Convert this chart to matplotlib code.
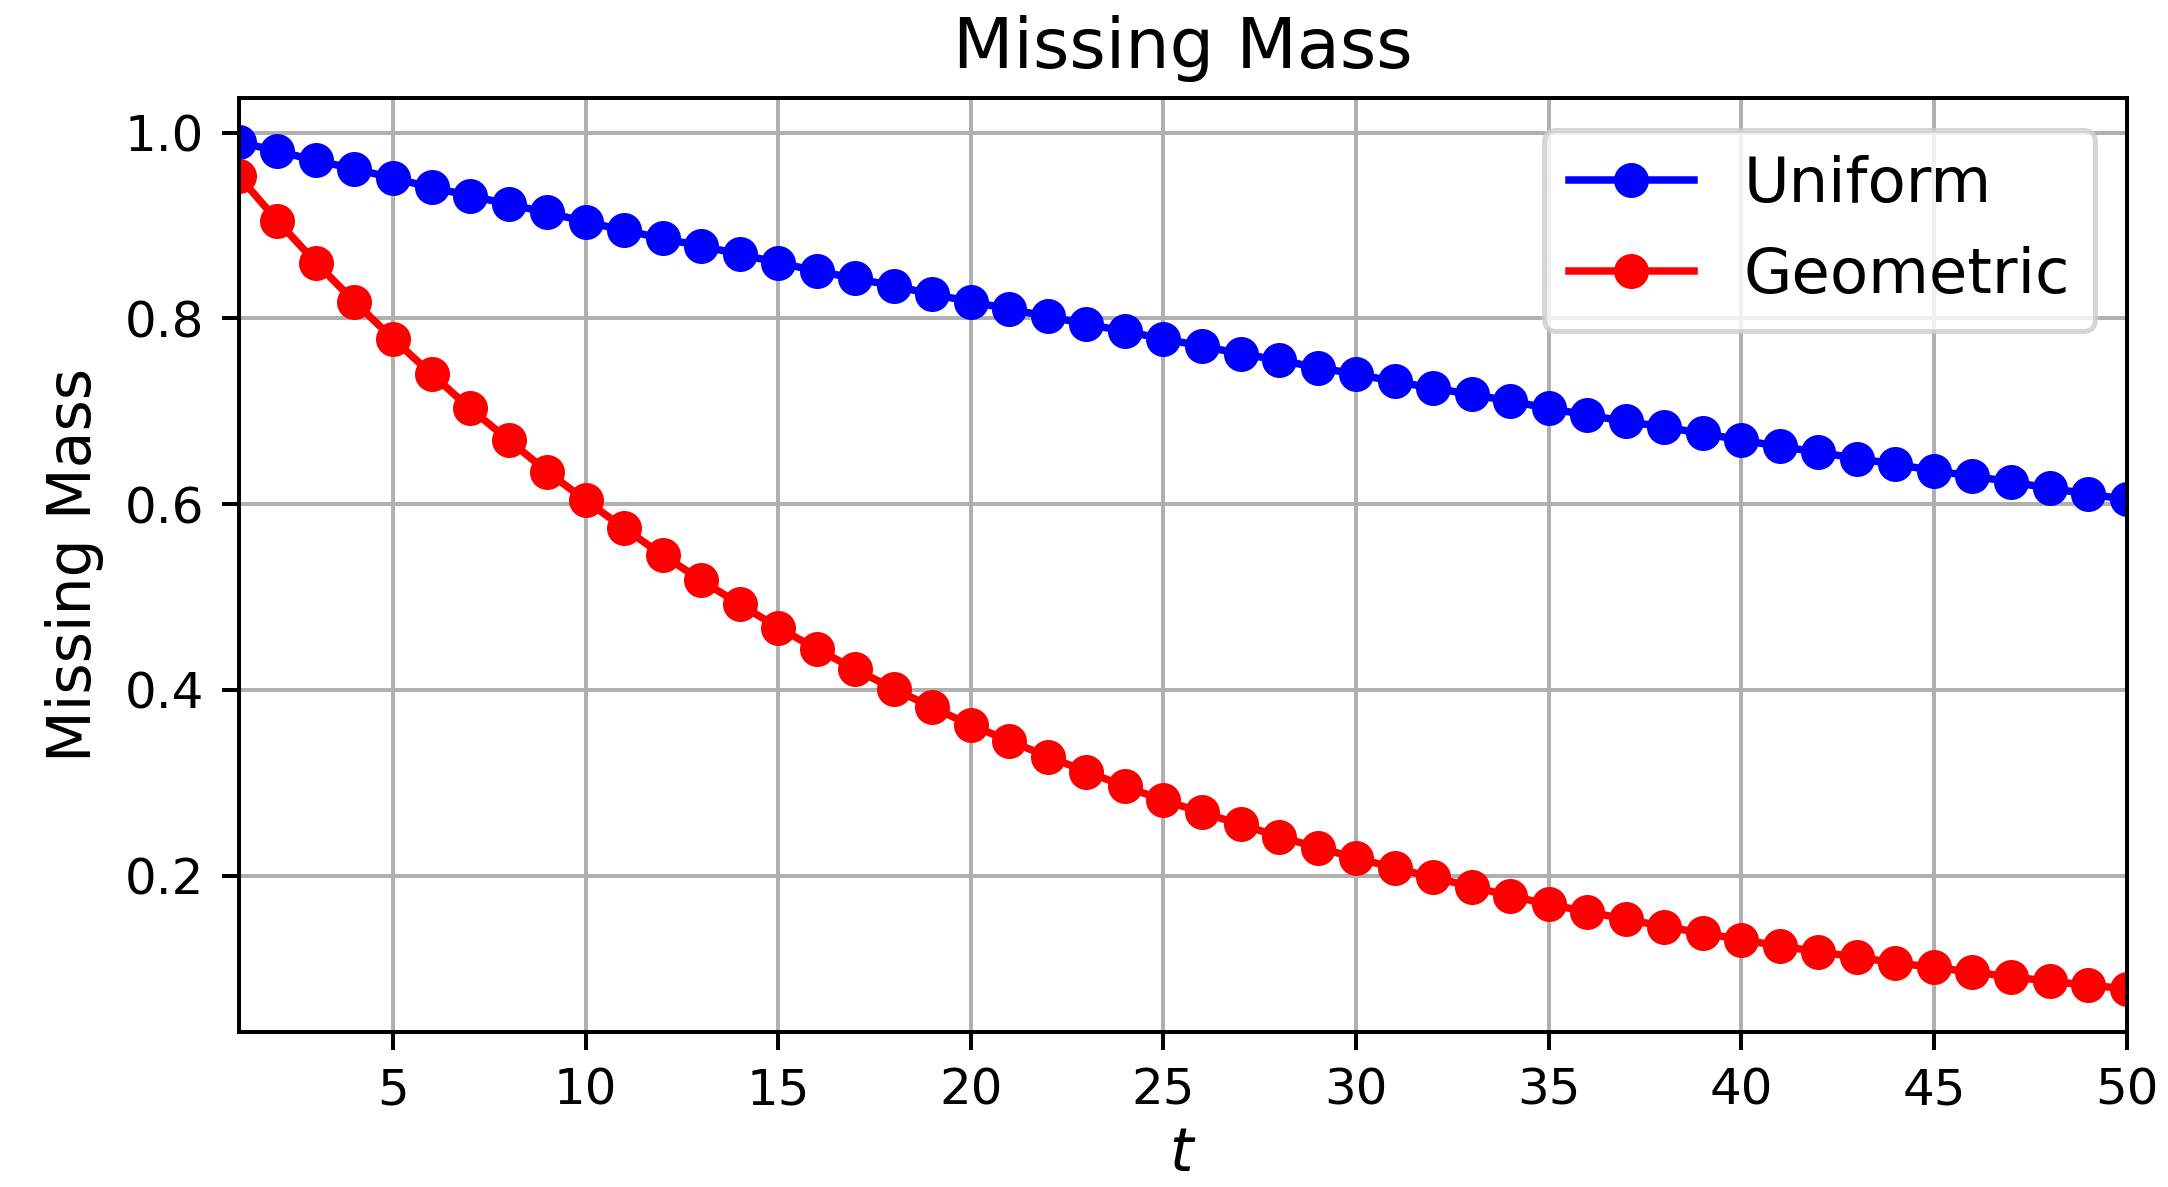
import matplotlib
matplotlib.use("Agg")
import matplotlib.pyplot as plt

# Missing mass after t samples, for two source distributions
t = list(range(1, 51))
uniform = [0.990, 0.980, 0.970, 0.961, 0.951, 0.941, 0.932, 0.923, 0.914, 0.904,
           0.895, 0.886, 0.878, 0.869, 0.860, 0.851, 0.843, 0.835, 0.826, 0.818,
           0.810, 0.802, 0.794, 0.786, 0.778, 0.770, 0.762, 0.755, 0.747, 0.740,
           0.732, 0.725, 0.718, 0.711, 0.703, 0.696, 0.689, 0.683, 0.676, 0.669,
           0.662, 0.656, 0.649, 0.643, 0.636, 0.630, 0.624, 0.617, 0.611, 0.605]
geometric = [0.953, 0.905, 0.860, 0.818, 0.778, 0.740, 0.703, 0.669, 0.635, 0.604,
             0.574, 0.545, 0.518, 0.492, 0.467, 0.444, 0.422, 0.401, 0.381, 0.362,
             0.345, 0.328, 0.312, 0.296, 0.281, 0.268, 0.255, 0.242, 0.230, 0.219,
             0.208, 0.198, 0.188, 0.178, 0.169, 0.161, 0.153, 0.145, 0.138, 0.131,
             0.124, 0.118, 0.112, 0.106, 0.101, 0.096, 0.091, 0.086, 0.082, 0.078]

x_ticks = list(range(5, 51, 5))

fig = plt.figure(figsize=(2168 / 360, 1187 / 360), dpi=360)
ax = fig.add_axes([0.1102, 0.1310, 0.8707, 0.7862])

ax.plot(t, uniform, "o-", color="blue", label="Uniform", markersize=6, linewidth=1.5)
ax.plot(t, geometric, "o-", color="red", label="Geometric", markersize=6, linewidth=1.5)

ax.set_xlim(1, 50)
ax.set_ylim(0.032, 1.037)
ax.set_xticks(x_ticks)
ax.tick_params(labelsize=10)
ax.grid(True)

ax.set_title("Missing Mass", fontsize=14)
ax.set_xlabel("$t$", fontsize=12, labelpad=2)
ax.set_ylabel("Missing Mass", fontsize=12)
ax.legend(loc="upper right", fontsize=12.5)

fig.savefig("out.png", dpi=360)
